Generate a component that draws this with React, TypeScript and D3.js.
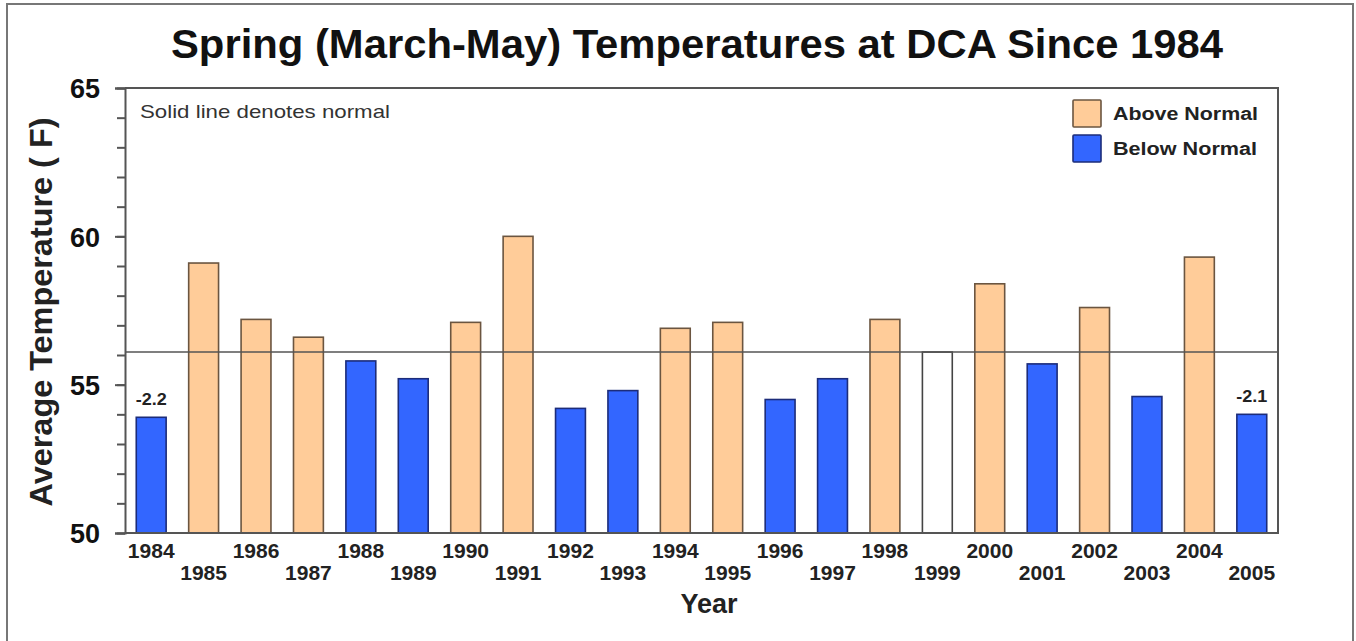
import { useEffect, useRef } from 'react'
import * as d3 from 'd3'

// Spring (Mar-May) mean temperature at DCA, deg F
const years = [
  '1984', '1985', '1986', '1987', '1988', '1989', '1990', '1991', '1992', '1993', '1994',
  '1995', '1996', '1997', '1998', '1999', '2000', '2001', '2002', '2003', '2004', '2005',
]
const temps = [
  53.9, 59.1, 57.2, 56.6, 55.8, 55.2, 57.1, 60.0, 54.2, 54.8, 56.9,
  57.1, 54.5, 55.2, 57.2, 56.1, 58.4, 55.7, 57.6, 54.6, 59.3, 54.0,
]
const normal = 56.1
const labeledYears = ['1984', '2005']
const yMajorTicks = [50, 55, 60, 65]
const legendItems = ['Above Normal', 'Below Normal']

const W = 1356
const H = 641
const FONT = '"Liberation Sans", Arial, Helvetica, sans-serif'

const ORANGE = '#ffcc99'
const ORANGE_EDGE = '#6b5540'
const BLUE = '#3366ff'
const BLUE_EDGE = '#1c2c7a'

export default function App() {
  const axisRef = useRef<SVGGElement>(null)

  const margin = { top: 88, right: 78, bottom: 108, left: 125 }
  const x = d3.scaleBand<string>()
    .domain(years)
    .range([margin.left, W - margin.right])
    .paddingInner(0.43)
    .paddingOuter(0.215)
  const y = d3.scaleLinear().domain([50, 65]).range([H - margin.bottom, margin.top])

  const fillFor = (v: number) => (v > normal ? ORANGE : v < normal ? BLUE : '#ffffff')
  const edgeFor = (v: number) => (v > normal ? ORANGE_EDGE : v < normal ? BLUE_EDGE : '#444')

  useEffect(() => {
    const g = d3.select(axisRef.current)
    g.selectAll('*').remove()

    // minor ticks every degree
    g.append('g')
      .attr('transform', `translate(${margin.left},0)`)
      .call(d3.axisLeft(y).ticks(15).tickSize(8).tickSizeOuter(10).tickFormat(() => ''))
      .call(ax => ax.selectAll('line, path').attr('stroke', '#555').attr('stroke-width', 2))

    // major ticks + labels
    g.append('g')
      .attr('transform', `translate(${margin.left},0)`)
      .call(d3.axisLeft(y).tickValues(yMajorTicks).tickSize(10).tickPadding(15).tickFormat(d3.format('d')))
      .call(ax => ax.select('.domain').remove())
      .call(ax => ax.selectAll('line').attr('stroke', '#555').attr('stroke-width', 2))
      .call(ax => ax.selectAll('text')
        .attr('fill', '#111')
        .attr('font-family', FONT)
        .attr('font-weight', 'bold')
        .attr('font-size', '27px')
        .attr('dy', '0.36em'))
  }, [])

  const plotR = W - margin.right
  const plotB = H - margin.bottom

  return (
    <svg width={W} height={H} style={{ position: 'absolute', left: 0, top: 0, display: 'block', background: '#fff' }}>
      {/* outer frame */}
      <rect x={7} y={4} width={1346} height={660} fill="none" stroke="#777" strokeWidth={2} />

      <text x={697} y={58} textAnchor="middle" fontFamily={FONT} fontWeight="bold" fontSize={40}
        textLength={1052} lengthAdjust="spacingAndGlyphs" fill="#111">
        Spring (March-May) Temperatures at DCA Since 1984
      </text>

      {/* bars */}
      {years.map((yr, i) => (
        <rect key={yr}
          x={x(yr)} y={y(temps[i])} width={x.bandwidth()} height={plotB - y(temps[i])}
          fill={fillFor(temps[i])} stroke={edgeFor(temps[i])} strokeWidth={1.6} />
      ))}

      {/* normal line */}
      <line x1={margin.left} x2={plotR} y1={y(normal)} y2={y(normal)} stroke="#555" strokeWidth={1.6} />

      {/* departures for labeled years */}
      {years.map((yr, i) => labeledYears.includes(yr) ? (
        <text key={'l' + yr} x={x(yr)! + x.bandwidth() / 2} y={y(temps[i]) - 12} textAnchor="middle"
          fontFamily={FONT} fontWeight="bold" fontSize={16} fill="#222" textLength={31} lengthAdjust="spacingAndGlyphs">
          {(temps[i] - normal).toFixed(1)}
        </text>
      ) : null)}

      {/* frame: top, right, bottom */}
      <path d={`M${margin.left},${margin.top}H${plotR}V${plotB}H${margin.left}`} fill="none" stroke="#555" strokeWidth={2} />

      <g ref={axisRef} />

      <text x={140} y={118} fontFamily={FONT} fontSize={19} fill="#333" textLength={250} lengthAdjust="spacingAndGlyphs">
        Solid line denotes normal
      </text>

      {/* legend */}
      {legendItems.map((lab, i) => (
        <g key={lab} transform={`translate(1073,${100 + i * 35})`}>
          <rect width={28} height={27} fill={i === 0 ? ORANGE : BLUE} stroke={i === 0 ? ORANGE_EDGE : BLUE_EDGE} strokeWidth={1.6} rx={1} />
          <text x={40} y={14} dy="0.36em" fontFamily={FONT} fontWeight="bold" fontSize={18} fill="#222"
            textLength={i === 0 ? 145 : 144} lengthAdjust="spacingAndGlyphs">
            {lab}
          </text>
        </g>
      ))}

      {/* x labels, staggered */}
      {years.map((yr, i) => (
        <text key={'x' + yr} x={x(yr)! + x.bandwidth() / 2} y={i % 2 === 0 ? 558 : 580} textAnchor="middle"
          fontFamily={FONT} fontWeight="bold" fontSize={21} fill="#222">
          {yr}
        </text>
      ))}

      <text x={709} y={613} textAnchor="middle" fontFamily={FONT} fontWeight="bold" fontSize={27} fill="#222">Year</text>

      <text transform="translate(52,312) rotate(-90)" textAnchor="middle" fontFamily={FONT} fontWeight="bold"
        fontSize={32} fill="#222" textLength={389} lengthAdjust="spacingAndGlyphs">
        Average Temperature ( F)
      </text>
    </svg>
  )
}
